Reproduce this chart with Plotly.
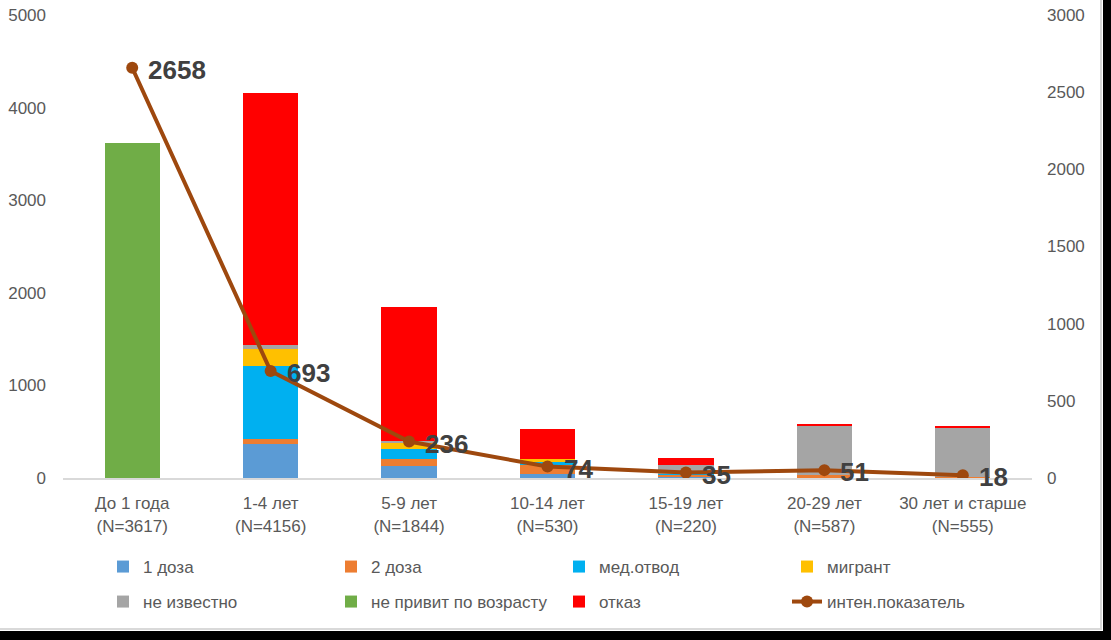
import plotly.graph_objects as go

# Data
categories = ["До 1 года<br>(N=3617)", "1-4 лет<br>(N=4156)", "5-9 лет<br>(N=1844)",
              "10-14 лет<br>(N=530)", "15-19 лет<br>(N=220)", "20-29 лет<br>(N=587)",
              "30 лет и старше<br>(N=555)"]
dose1 = [0, 372, 133, 40, 15, 5, 0]
dose2 = [0, 46, 72, 100, 20, 25, 8]
med_otvod = [0, 795, 108, 33, 5, 0, 0]
migrant = [0, 180, 62, 27, 0, 0, 0]
unknown = [0, 43, 25, 0, 105, 528, 537]
not_vacc = [3617, 0, 0, 0, 0, 0, 0]
refusal = [0, 2720, 1444, 330, 75, 29, 10]
intensity = [2658, 693, 236, 74, 35, 51, 18]

series = [
    ("1 доза", dose1, "#5b9bd5", "legend"),
    ("2 доза", dose2, "#ed7d31", "legend"),
    ("мед.отвод", med_otvod, "#00b0f0", "legend"),
    ("мигрант", migrant, "#ffc000", "legend"),
    ("не известно", unknown, "#a5a5a5", "legend2"),
    ("не привит по возрасту", not_vacc, "#70ad47", "legend2"),
    ("отказ", refusal, "#ff0000", "legend2"),
]

FONT = "Liberation Sans"
W, H = 1111, 640
L, R, T, B = 63, 79, 15, 162
pw, ph = W - L - R, H - T - B


def px(p):
    return (p - L) / pw


def py(q):
    return (H - B - q) / ph


fig = go.Figure()

for name, vals, color, leg in series:
    fig.add_trace(go.Bar(x=categories, y=vals, name=name, marker_color=color,
                         marker_line_width=0, legend=leg))

fig.add_trace(go.Scatter(
    x=categories, y=intensity, name="интен.показатель", yaxis="y2", legend="legend2",
    mode="lines+markers", line=dict(color="#9e480e", width=4),
    marker=dict(color="#9e480e", size=12),
))

# value labels next to the line points
for c, v in zip(categories, intensity):
    fig.add_annotation(x=c, y=v, yref="y2", text=str(v), showarrow=False,
                       xanchor="left", xshift=14, yshift=-2,
                       font=dict(family=FONT, size=26, color="#404040", weight="bold"))

legend_common = dict(orientation="h", xanchor="left", yanchor="middle",
                     entrywidth=183, entrywidthmode="pixels", traceorder="normal",
                     bgcolor="rgba(0,0,0,0)", font=dict(size=17, color="#595959"))

fig.update_layout(
    width=W, height=H,
    margin=dict(l=L, r=R, t=T, b=B, autoexpand=False),
    barmode="stack", bargap=0.6,
    plot_bgcolor="white", paper_bgcolor="white",
    font=dict(family=FONT, size=17, color="#595959"),
    hovermode=False,
    xaxis=dict(showgrid=False, showline=True, linecolor="#d9d9d9", linewidth=2,
               ticks="", tickfont=dict(size=17), ticklabelstandoff=9, automargin=False),
    yaxis=dict(range=[0, 5000], dtick=1000, showgrid=False, zeroline=False,
               ticks="", tickfont=dict(size=17), ticklabelstandoff=16, automargin=False),
    yaxis2=dict(range=[0, 3000], dtick=500, overlaying="y", side="right",
                showgrid=False, zeroline=False, ticks="", tickfont=dict(size=17),
                ticklabelstandoff=14, automargin=False),
    legend=dict(legend_common, x=px(103), y=py(567)),
    legend2=dict(legend_common, x=px(103), y=py(602)),
    # frame with dark shadow on the right and bottom
    shapes=[
        dict(type="rect", xref="paper", yref="paper", x0=px(1103), x1=px(W + 5),
             y0=py(H + 5), y1=py(-5), fillcolor="black", line_width=0, layer="above"),
        dict(type="rect", xref="paper", yref="paper", x0=px(-5), x1=px(W + 5),
             y0=py(H + 5), y1=py(631), fillcolor="black", line_width=0, layer="above"),
        dict(type="line", xref="paper", yref="paper", x0=px(1101), x1=px(1101),
             y0=py(630), y1=py(-5), line=dict(color="#d9d9d9", width=2)),
        dict(type="line", xref="paper", yref="paper", x0=px(-5), x1=px(1102),
             y0=py(629), y1=py(629), line=dict(color="#d9d9d9", width=2)),
    ],
)

fig.write_html("out.html", config={"displayModeBar": False},
               post_script="document.body.style.margin='0';")
